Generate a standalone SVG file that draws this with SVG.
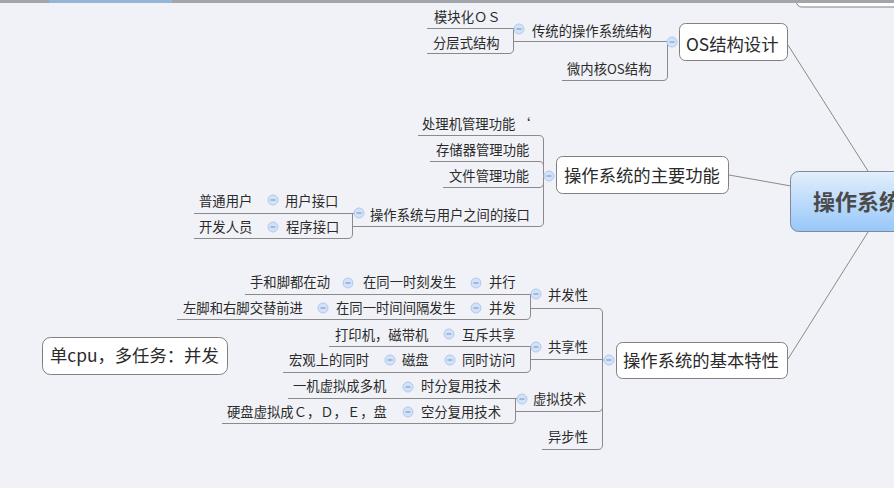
<svg xmlns="http://www.w3.org/2000/svg" xmlns:xlink="http://www.w3.org/1999/xlink" width="894" height="488" viewBox="0 0 894 488">
<defs>
<style>
.t{font-family:"Noto Sans CJK SC","Noto Sans",sans-serif;font-size:13.33px;fill:#2a2a2a}
.n{font-size:17.33px}
.c{fill:none;stroke:#8a8a8a;stroke-width:1}
.box{fill:#fff;stroke:#808080;stroke-width:1}
</style>
<linearGradient id="rg" x1="0" y1="0" x2="0" y2="1">
<stop offset="0" stop-color="#e3effc"/>
<stop offset="1" stop-color="#97c7fa"/>
</linearGradient>
<g id="ico">
<circle r="5" fill="#d3e2f7" stroke="#b1c9ec" stroke-width="1"/>
<line x1="-2.5" y1="0" x2="2.5" y2="0" stroke="#7a9fd6" stroke-width="1.2"/>
</g>
</defs>
<rect width="894" height="488" fill="#f1f2f7"/>

<g id="connectors">
<path class="c" d="M788,45 L868,171"/>
<path class="c" d="M729,175 L791,186"/>
<path class="c" d="M788,359 L868,232"/>
<path class="c" d="M513,41.5 H668"/>
<path class="c" d="M562,80.5 H663 Q667.5,80.5 667.5,76 V42"/>
<path class="c" d="M427,28.5 H514"/>
<path class="c" d="M427,53.5 H509 Q513.5,53.5 513.5,49 V28.5"/>
<path class="c" d="M418,135.5 H539 Q543.5,135.5 543.5,140 V176 H545"/>
<path class="c" d="M430,161.5 H539 Q543.5,161.5 543.5,166 V176"/>
<path class="c" d="M443,187.5 H539 Q543.5,187.5 543.5,183 V176"/>
<path class="c" d="M352,226.5 H539 Q543.5,226.5 543.5,222 V176"/>
<path class="c" d="M194,213.5 H355"/>
<path class="c" d="M194,238.5 H348 Q352.5,238.5 352.5,234 V213.5"/>
<path class="c" d="M530,308.5 H598 Q602.5,308.5 602.5,313 V360 H605"/>
<path class="c" d="M530,359.5 H602"/>
<path class="c" d="M516,411.5 H598 Q602.5,411.5 602.5,407 V360"/>
<path class="c" d="M542,449.5 H598 Q602.5,449.5 602.5,445 V360"/>
<path class="c" d="M245,294.5 H532"/>
<path class="c" d="M177,319.5 H526 Q530.5,319.5 530.5,315 V294.5"/>
<path class="c" d="M329,346.5 H532"/>
<path class="c" d="M283,372.5 H526 Q530.5,372.5 530.5,368 V346.5"/>
<path class="c" d="M288,398.5 H518"/>
<path class="c" d="M222,423.5 H511 Q515.5,423.5 515.5,419 V398.5"/>
</g>

<g id="top-bar">
<rect x="796.5" y="-30" width="200" height="37" rx="5" class="box"/>
<rect x="0" y="0" width="894" height="3" fill="#a2a5aa"/>
<rect x="49" y="0" width="123" height="3" fill="#94b4d8"/>
</g>

<g id="root">
<rect x="790.5" y="171.5" width="200" height="60" rx="8" fill="url(#rg)" stroke="#7f8a96"/>
<text class="t" x="813" y="210" style="font-size:22px;font-weight:bold;fill:#4a4a4a">操作系统</text>
</g>

<g id="os-design">
<rect x="679.5" y="23.5" width="108" height="37" rx="6" class="box"/>
<text class="t n" x="686" y="50.5">OS结构设计</text>
<use xlink:href="#ico" x="672" y="42"/>
</g>
<g id="traditional">
<text class="t" x="532" y="35.5">传统的操作系统结构</text>
<use xlink:href="#ico" x="519" y="29"/>
</g>
<g id="microkernel"><text class="t" x="567" y="73.5">微内核OS结构</text></g>
<g id="modular"><text class="t" x="434" y="22">模块化ＯＳ</text></g>
<g id="layered"><text class="t" x="433" y="47.5">分层式结构</text></g>

<g id="main-functions">
<rect x="556.5" y="156.5" width="172" height="37" rx="6" class="box"/>
<text class="t n" x="564" y="182">操作系统的主要功能</text>
<use xlink:href="#ico" x="549" y="176"/>
</g>
<g id="processor"><text class="t" x="422" y="128.5">处理机管理功能 <tspan x="517">‘</tspan></text></g>
<g id="memory"><text class="t" x="436" y="154.5">存储器管理功能</text></g>
<g id="file"><text class="t" x="449" y="181">文件管理功能</text></g>
<g id="interface">
<text class="t" x="370" y="219.5">操作系统与用户之间的接口</text>
<use xlink:href="#ico" x="359" y="213"/>
</g>
<g id="user-if">
<text class="t" x="285" y="206">用户接口</text>
<use xlink:href="#ico" x="273" y="200"/>
</g>
<g id="normal-user"><text class="t" x="199" y="206">普通用户</text></g>
<g id="prog-if">
<text class="t" x="286" y="232">程序接口</text>
<use xlink:href="#ico" x="273" y="227"/>
</g>
<g id="developer"><text class="t" x="199" y="232">开发人员</text></g>

<g id="basic-features">
<rect x="616.5" y="342.5" width="171" height="36" rx="6" class="box"/>
<text class="t n" x="623" y="367">操作系统的基本特性</text>
<use xlink:href="#ico" x="609" y="360"/>
</g>
<g id="concurrency">
<text class="t" x="548" y="300">并发性</text>
<use xlink:href="#ico" x="536" y="294"/>
</g>
<g id="parallel">
<text class="t" x="489" y="287">并行</text>
<use xlink:href="#ico" x="476" y="283"/>
</g>
<g id="same-moment">
<text class="t" x="363" y="287">在同一时刻发生</text>
<use xlink:href="#ico" x="348" y="283"/>
</g>
<g id="hands-feet"><text class="t" x="250" y="287">手和脚都在动</text></g>
<g id="concurrent">
<text class="t" x="489" y="312.5">并发</text>
<use xlink:href="#ico" x="476" y="308"/>
</g>
<g id="same-interval">
<text class="t" x="336" y="312.5">在同一时间间隔发生</text>
<use xlink:href="#ico" x="323" y="308"/>
</g>
<g id="left-right"><text class="t" x="183" y="312.5">左脚和右脚交替前进</text></g>
<g id="sharing">
<text class="t" x="548" y="352">共享性</text>
<use xlink:href="#ico" x="536" y="347"/>
</g>
<g id="mutex">
<text class="t" x="462" y="340">互斥共享</text>
<use xlink:href="#ico" x="449" y="334"/>
</g>
<g id="printer"><text class="t" x="335" y="340">打印机，磁带机</text></g>
<g id="simultaneous">
<text class="t" x="462" y="365">同时访问</text>
<use xlink:href="#ico" x="450" y="360"/>
</g>
<g id="disk">
<text class="t" x="402" y="365">磁盘</text>
<use xlink:href="#ico" x="390" y="360"/>
</g>
<g id="macro"><text class="t" x="289" y="365">宏观上的同时</text></g>
<g id="virtual">
<text class="t" x="533" y="404">虚拟技术</text>
<use xlink:href="#ico" x="522" y="399"/>
</g>
<g id="tdm">
<text class="t" x="421" y="391">时分复用技术</text>
<use xlink:href="#ico" x="408" y="387"/>
</g>
<g id="one-many"><text class="t" x="293" y="391">一机虚拟成多机</text></g>
<g id="sdm">
<text class="t" x="421" y="417">空分复用技术</text>
<use xlink:href="#ico" x="408" y="412"/>
</g>
<g id="hdd"><text class="t" x="227" y="417">硬盘虚拟成Ｃ，Ｄ，Ｅ，盘</text></g>
<g id="async"><text class="t" x="548" y="442">异步性</text></g>

<g id="note">
<rect x="42.5" y="337.5" width="185" height="37" rx="8" class="box"/>
<text class="t n" x="50" y="362">单cpu，多任务：并发</text>
</g>
</svg>
